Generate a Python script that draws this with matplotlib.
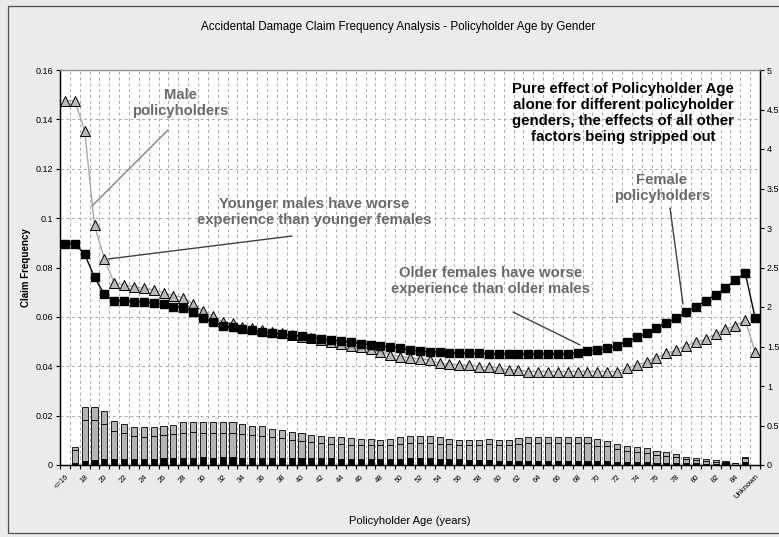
import numpy as np
import matplotlib
matplotlib.use("Agg")
import matplotlib.pyplot as plt
from matplotlib.ticker import FixedLocator, MultipleLocator
from matplotlib.patches import Rectangle

plt.rcParams['font.family'] = ['Liberation Sans', 'DejaVu Sans']

# ---------------- data ----------------
ages = ["<=16"] + [str(a) for a in range(17, 86)] + ["Unknown"]

female_freq = [0.0895, 0.0895, 0.0855, 0.0760, 0.0691, 0.0666, 0.0666, 0.0662, 0.0659, 0.0655,
               0.0651, 0.0641, 0.0637, 0.0621, 0.0597, 0.0580, 0.0563, 0.0560, 0.0550, 0.0545,
               0.0540, 0.0535, 0.0530, 0.0526, 0.0521, 0.0516, 0.0512, 0.0507, 0.0502, 0.0497,
               0.0492, 0.0487, 0.0482, 0.0479, 0.0473, 0.0466, 0.0462, 0.0459, 0.0459, 0.0455,
               0.0452, 0.0452, 0.0452, 0.0450, 0.0448, 0.0448, 0.0448, 0.0448, 0.0448, 0.0448,
               0.0448, 0.0448, 0.0455, 0.0462, 0.0466, 0.0473, 0.0482, 0.0500, 0.0517, 0.0533,
               0.0554, 0.0574, 0.0594, 0.0618, 0.0641, 0.0666, 0.0689, 0.0716, 0.0749, 0.0779,
               0.0597]

male_freq = [0.1476, 0.1476, 0.1354, 0.0972, 0.0834, 0.0738, 0.0729, 0.0722, 0.0716, 0.0709,
             0.0698, 0.0686, 0.0678, 0.0652, 0.0624, 0.0604, 0.0580, 0.0574, 0.0560, 0.0553,
             0.0546, 0.0540, 0.0533, 0.0527, 0.0520, 0.0513, 0.0505, 0.0498, 0.0490, 0.0483,
             0.0476, 0.0468, 0.0459, 0.0446, 0.0439, 0.0435, 0.0430, 0.0425, 0.0412, 0.0409,
             0.0405, 0.0405, 0.0398, 0.0398, 0.0392, 0.0385, 0.0385, 0.0378, 0.0378, 0.0378,
             0.0378, 0.0378, 0.0378, 0.0378, 0.0378, 0.0378, 0.0378, 0.0392, 0.0405, 0.0418,
             0.0435, 0.0452, 0.0466, 0.0483, 0.0497, 0.0510, 0.0530, 0.0550, 0.0565, 0.0587,
             0.0459]

# exposure bars (right axis), three stacked segments
expo_black = [0.0, 0.02, 0.05, 0.06, 0.07, 0.075, 0.075, 0.075, 0.075, 0.08,
              0.09, 0.09, 0.09, 0.09, 0.10, 0.09, 0.10, 0.10, 0.09, 0.09,
              0.09, 0.09, 0.09, 0.09, 0.09, 0.09, 0.085, 0.085, 0.08, 0.08,
              0.08, 0.08, 0.075, 0.075, 0.08, 0.09, 0.09, 0.085, 0.075, 0.07,
              0.07, 0.065, 0.06, 0.06, 0.055, 0.055, 0.055, 0.055, 0.05, 0.05,
              0.05, 0.05, 0.05, 0.05, 0.045, 0.045, 0.04, 0.04, 0.035, 0.035,
              0.03, 0.03, 0.025, 0.02, 0.02, 0.015, 0.015, 0.02, 0.0, 0.035,
              0.0]
expo_grey1 = [0.0, 0.17, 0.52, 0.51, 0.45, 0.355, 0.335, 0.295, 0.285, 0.29,
              0.29, 0.30, 0.32, 0.33, 0.31, 0.32, 0.31, 0.31, 0.30, 0.29,
              0.28, 0.27, 0.25, 0.23, 0.21, 0.20, 0.195, 0.185, 0.18, 0.175,
              0.17, 0.17, 0.175, 0.175, 0.19, 0.19, 0.19, 0.195, 0.195, 0.19,
              0.18, 0.185, 0.19, 0.20, 0.195, 0.195, 0.205, 0.225, 0.23, 0.23,
              0.23, 0.23, 0.23, 0.23, 0.20, 0.19, 0.16, 0.14, 0.13, 0.12,
              0.10, 0.09, 0.07, 0.05, 0.04, 0.035, 0.027, 0.02, 0.03, 0.05,
              0.0]
expo_grey2 = [0.0, 0.04, 0.16, 0.17, 0.16, 0.13, 0.11, 0.11, 0.12, 0.11,
              0.12, 0.12, 0.14, 0.13, 0.14, 0.13, 0.13, 0.13, 0.13, 0.12,
              0.12, 0.10, 0.10, 0.10, 0.10, 0.09, 0.09, 0.09, 0.09, 0.085,
              0.08, 0.08, 0.07, 0.08, 0.08, 0.09, 0.09, 0.09, 0.08, 0.07,
              0.07, 0.07, 0.07, 0.07, 0.07, 0.07, 0.08, 0.08, 0.08, 0.08,
              0.08, 0.08, 0.08, 0.08, 0.08, 0.075, 0.07, 0.065, 0.06, 0.055,
              0.05, 0.045, 0.04, 0.03, 0.025, 0.022, 0.018, 0.006, 0.0, 0.012,
              0.0]

left_ticks = [0, 0.02, 0.04, 0.06, 0.08, 0.1, 0.12, 0.14, 0.16]
left_labels = ["0", "0.02", "0.04", "0.06", "0.08", "0.1", "0.12", "0.14", "0.16"]
right_ticks = [0, 0.5, 1, 1.5, 2, 2.5, 3, 3.5, 4, 4.5, 5]
right_labels = ["0", "0.5", "1", "1.5", "2", "2.5", "3", "3.5", "4", "4.5", "5"]

# ---------------- figure ----------------
W, H = 779, 537
fig = plt.figure(figsize=(W / 100, H / 100), dpi=100)
fig.patch.set_facecolor('#ebebeb')
fig.patches.append(Rectangle((8 / W, 4 / H), 800 / W, 527 / H, transform=fig.transFigure,
                             fill=False, edgecolor='#505050', lw=0.9))

ax = fig.add_axes([60 / W, 1 - 465 / H, 700 / W, 395 / H])
ax.set_facecolor('white')
x = np.arange(len(ages))
n = len(ages)

b1 = np.array(expo_black)
b2 = np.array(expo_grey1)
b3 = np.array(expo_grey2)
bw = 0.62
ax.bar(x, b1, bw, color='black', edgecolor='black', lw=0.6, zorder=2)
ax.bar(x, b2, bw, bottom=b1, color='#b4b4b4', edgecolor='black', lw=0.6, zorder=2)
ax.bar(x, b3, bw, bottom=b1 + b2, color='#b4b4b4', edgecolor='black', lw=0.6, zorder=2)

ax.set_xlim(-0.5, n - 0.5)
ax.set_ylim(0, 5)
ax.yaxis.set_minor_locator(MultipleLocator(5 / 8))
ax.xaxis.set_minor_locator(FixedLocator(np.arange(-0.5, n, 1)))
ax.set_xticks(x[::2])
ax.set_xticklabels(ages[::2], rotation=45, ha='right', va='top', rotation_mode='anchor', fontsize=5.5)
ax.tick_params(axis='x', which='major', length=0, pad=6)
ax.tick_params(axis='x', which='minor', length=3, direction='out', width=0.8)
ax.grid(which='minor', axis='both', color='#aaaaaa', lw=0.7, ls=(0, (3, 3)))
ax.set_axisbelow(True)

ax2 = ax.twinx()
# bars' axis on the right, frequency axis on the left
ax.yaxis.tick_right()
ax.set_yticks(right_ticks)
ax.set_yticklabels(right_labels, fontsize=6.5)
ax.tick_params(axis='y', which='minor', length=0, left=False, right=False)
ax.tick_params(axis='y', which='major', length=3, direction='out', width=0.8, pad=2)

ax2.yaxis.tick_left()
ax2.yaxis.set_label_position('left')
ax2.set_ylim(0, 0.16)
ax2.set_yticks(left_ticks)
ax2.set_yticklabels(left_labels, fontsize=6.5)
ax2.tick_params(axis='y', length=3, direction='out', width=0.8, pad=2)
ax2.set_ylabel("Claim Frequency", fontsize=7, fontweight='bold', labelpad=3)

ax2.plot(x, male_freq, color='#a8a8a8', lw=1.0, marker='^', ms=6.5,
         mfc='#b8b8b8', mec='black', mew=0.7, zorder=3)
ax2.plot(x, female_freq, color='black', lw=1.0, marker='s', ms=5.6,
         mfc='black', mec='black', zorder=4)

for a in (ax, ax2):
    for s in ('left', 'bottom', 'right'):
        a.spines[s].set_color('black')
        a.spines[s].set_linewidth(0.9)
    a.spines['top'].set_color('#909090')
    a.spines['top'].set_linewidth(0.9)

# ---------------- texts ----------------
fig.text(398 / W, 1 - 27 / H, "Accidental Damage Claim Frequency Analysis - Policyholder Age by Gender",
         ha='center', va='center', fontsize=8.4)
fig.text(410 / W, 1 - 521 / H, "Policyholder Age (years)", ha='center', va='center',
         fontsize=8)

def dpos(px, py):
    return ((px - 60) / (700 / n) - 0.5, (465 - py) / 395 * 0.16)

grey_txt = '#6a6a6a'
def note(px, py, s, color=grey_txt, size=10.7, ls=1.15):
    xx, yy = dpos(px, py)
    ax2.text(xx, yy, s, ha='center', va='center', fontsize=size, fontweight='bold',
             color=color, linespacing=ls, zorder=6)

def leader(p1, p2, color='#404040'):
    ax2.annotate('', xy=dpos(*p2), xytext=dpos(*p1),
                 arrowprops=dict(arrowstyle='-', color=color, lw=1.0, shrinkA=0, shrinkB=0),
                 zorder=5)

note(180, 103, "Male\npolicyholders")
leader((168, 130), (92, 206), color='#808080')
note(314, 212, "Younger males have worse\nexperience than younger females")
leader((292, 236), (108, 259))
note(623, 113, "Pure effect of Policyholder Age\nalone for different policyholder\ngenders, the effects of all other\nfactors being stripped out",
     color='black', size=10.8, ls=1.2)
note(662, 188, "Female\npolicyholders")
leader((670, 208), (683, 304))
note(491, 281, "Older females have worse\nexperience than older males")
leader((513, 312), (580, 345))

fig.savefig("out.png", dpi=100, facecolor=fig.get_facecolor())
